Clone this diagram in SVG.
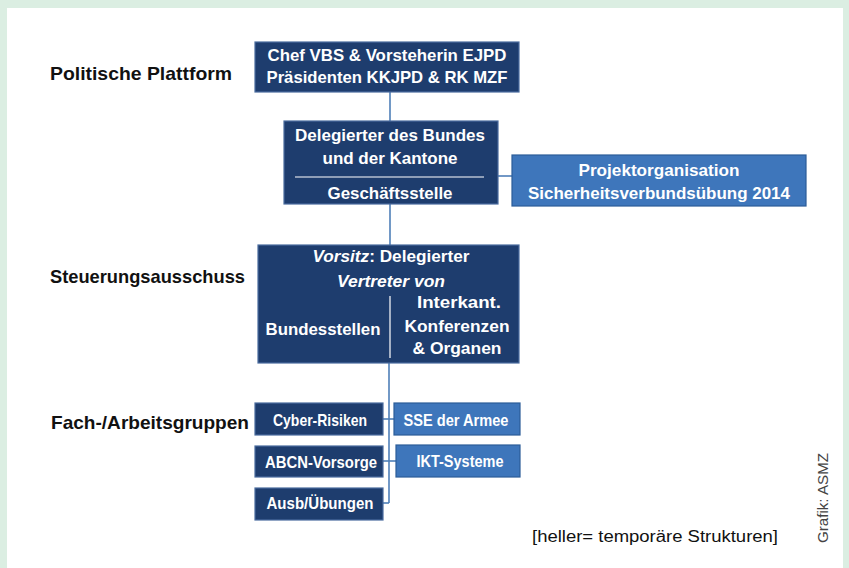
<svg xmlns="http://www.w3.org/2000/svg" width="849" height="568" viewBox="0 0 849 568">
<style>
.dark{fill:#1e3d6e;stroke:#4a6c9e;stroke-width:1.2}
.light{fill:#3e76bb;stroke:#2c5d98;stroke-width:1.2}
.bt{font-family:"Liberation Sans",Arial,sans-serif;font-weight:bold;font-size:17px;fill:#ffffff;text-anchor:middle}
.lbl{font-family:"Liberation Sans",Arial,sans-serif;font-weight:bold;font-size:19px;fill:#111111}
.conn{stroke:#4f7fb8;stroke-width:1.6;fill:none}
.sep{stroke:#ffffff;stroke-width:1.2}
</style>
<rect x="0" y="0" width="849" height="568" fill="#dbeee2"/>
<rect x="7" y="8" width="836" height="560" fill="#ffffff"/>

<g id="labels">
<text class="lbl" x="50" y="80" textLength="182" lengthAdjust="spacingAndGlyphs">Politische Plattform</text>
<text class="lbl" x="50" y="283" textLength="195" lengthAdjust="spacingAndGlyphs">Steuerungsausschuss</text>
<text class="lbl" x="51" y="429" textLength="198" lengthAdjust="spacingAndGlyphs">Fach-/Arbeitsgruppen</text>
</g>

<g id="connectors">
<line class="conn" x1="390" y1="92" x2="390" y2="123"/>
<line class="conn" x1="390" y1="204" x2="390" y2="245"/>
<line class="conn" x1="498" y1="176" x2="512" y2="176"/>
<line class="conn" x1="389" y1="363" x2="389" y2="503"/>
<line class="conn" x1="383" y1="419" x2="394" y2="419"/>
<line class="conn" x1="383" y1="461" x2="396" y2="461"/>
<line class="conn" x1="383" y1="503" x2="389" y2="503"/>
</g>

<g id="n-politisch">
<rect class="dark" x="255" y="42" width="264" height="50"/>
<text class="bt" x="387" y="61" textLength="239" lengthAdjust="spacingAndGlyphs">Chef VBS &amp; Vorsteherin EJPD</text>
<text class="bt" x="387" y="83" textLength="241" lengthAdjust="spacingAndGlyphs">Präsidenten KKJPD &amp; RK MZF</text>
</g>

<g id="n-delegierter">
<rect class="dark" x="284" y="121" width="214" height="83"/>
<text class="bt" x="390" y="141" textLength="190" lengthAdjust="spacingAndGlyphs">Delegierter des Bundes</text>
<text class="bt" x="390" y="164" textLength="135" lengthAdjust="spacingAndGlyphs">und der Kantone</text>
<line class="sep" x1="295" y1="177" x2="484" y2="177"/>
<text class="bt" x="390" y="199" textLength="125" lengthAdjust="spacingAndGlyphs">Geschäftsstelle</text>
</g>

<g id="n-projekt">
<rect class="light" x="512" y="155" width="294" height="51"/>
<text class="bt" x="659" y="176" textLength="161" lengthAdjust="spacingAndGlyphs">Projektorganisation</text>
<text class="bt" x="659" y="199" textLength="262" lengthAdjust="spacingAndGlyphs">Sicherheitsverbundsübung 2014</text>
</g>

<g id="n-steuerung">
<rect class="dark" x="258" y="245" width="261" height="118"/>
<text class="bt" x="391" y="262" textLength="157" lengthAdjust="spacingAndGlyphs"><tspan font-style="italic">Vorsitz</tspan>: Delegierter</text>
<text class="bt" x="391" y="287" font-style="italic" textLength="108" lengthAdjust="spacingAndGlyphs">Vertreter von</text>
<line class="sep" x1="390" y1="296" x2="390" y2="358"/>
<text class="bt" x="323" y="335" textLength="115" lengthAdjust="spacingAndGlyphs">Bundesstellen</text>
<text class="bt" x="459" y="308" textLength="84" lengthAdjust="spacingAndGlyphs">Interkant.</text>
<text class="bt" x="457" y="332" textLength="105" lengthAdjust="spacingAndGlyphs">Konferenzen</text>
<text class="bt" x="457" y="354" textLength="89" lengthAdjust="spacingAndGlyphs">&amp; Organen</text>
</g>

<g id="n-cyber">
<rect class="dark" x="255" y="403" width="128" height="32"/>
<text class="bt" x="320" y="426" textLength="94" lengthAdjust="spacingAndGlyphs">Cyber-Risiken</text>
</g>
<g id="n-abcn">
<rect class="dark" x="255" y="446" width="128" height="31"/>
<text class="bt" x="321" y="468" textLength="112" lengthAdjust="spacingAndGlyphs">ABCN-Vorsorge</text>
</g>
<g id="n-ausb">
<rect class="dark" x="255" y="488" width="128" height="32"/>
<text class="bt" x="320" y="509" textLength="107" lengthAdjust="spacingAndGlyphs">Ausb/Übungen</text>
</g>
<g id="n-sse">
<rect class="light" x="394" y="403" width="126" height="32"/>
<text class="bt" x="456" y="426" textLength="105" lengthAdjust="spacingAndGlyphs">SSE der Armee</text>
</g>
<g id="n-ikt">
<rect class="light" x="396" y="445" width="124" height="32"/>
<text class="bt" x="460" y="467" textLength="87" lengthAdjust="spacingAndGlyphs">IKT-Systeme</text>
</g>

<g id="notes">
<text x="532" y="542" font-family="Liberation Sans, Arial, sans-serif" font-size="16" fill="#111111" textLength="246" lengthAdjust="spacingAndGlyphs">[heller= temporäre Strukturen]</text>
<text transform="translate(828,543) rotate(-90)" font-family="Liberation Sans, Arial, sans-serif" font-size="14" fill="#444444" textLength="90" lengthAdjust="spacingAndGlyphs">Grafik: ASMZ</text>
</g>
</svg>
